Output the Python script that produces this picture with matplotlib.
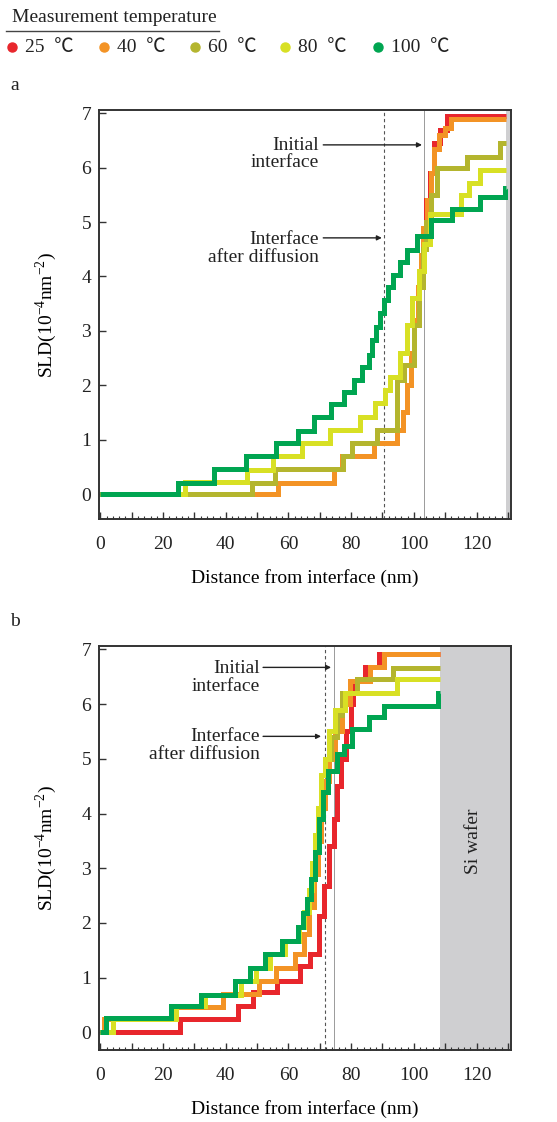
import numpy as np
import matplotlib
matplotlib.use('Agg')
import matplotlib.pyplot as plt
from matplotlib.lines import Line2D
from matplotlib.ticker import MultipleLocator, FuncFormatter

plt.rcParams['font.family'] = ['Liberation Serif', 'Noto Sans CJK SC']
plt.rcParams['mathtext.fontset'] = 'custom'
plt.rcParams['mathtext.rm'] = 'Liberation Serif'
plt.rcParams['font.size'] = 14

temps = ['25', '40', '60', '80', '100']
colors = ['#e8262c', '#f39325', '#b4b52e', '#d8e024', '#00a551']

# panel a: step edges (nm) and SLD levels (1e-4 nm^-2)
a_red_x = [0, 56.7, 74.4, 77.0, 87.2, 94.6, 96.5, 97.8, 99.0, 100.2, 101.2, 102.2, 103.0, 104.0, 105.0, 106.3, 108.5, 110.5, 113.6, 129.5]
a_red_y = [0, 0.21, 0.46, 0.69, 0.93, 1.18, 1.5, 2.0, 2.6, 3.2, 3.8, 4.4, 4.9, 5.4, 5.9, 6.45, 6.7, 6.95, 6.95]
a_ora_x = [0, 56.7, 74.4, 77.0, 87.2, 94.6, 96.5, 97.8, 99.0, 100.2, 101.2, 102.2, 103.0, 104.2, 105.5, 106.5, 108.0, 110.0, 112.0, 114.9, 129.5]
a_ora_y = [0, 0.21, 0.46, 0.69, 0.93, 1.18, 1.5, 2.0, 2.6, 3.2, 3.8, 4.4, 4.9, 5.4, 5.9, 6.35, 6.6, 6.73, 6.9, 6.9]
a_oli_x = [0, 48.4, 55.6, 77.5, 80.2, 88.2, 94.6, 97.0, 100.0, 101.5, 102.8, 104.0, 105.5, 107.4, 117.0, 127.6, 129.5]
a_oli_y = [0, 0.21, 0.46, 0.69, 0.93, 1.18, 2.1, 2.37, 3.1, 3.8, 4.5, 5.0, 5.5, 5.99, 6.2, 6.45]
a_yel_x = [0, 27.1, 46.7, 55.1, 64.3, 73.3, 82.9, 87.7, 90.9, 92.5, 95.7, 97.8, 99.4, 101.5, 103.2, 105.3, 114.9, 117.5, 121.0, 129.5]
a_yel_y = [0, 0.22, 0.44, 0.69, 0.93, 1.18, 1.42, 1.67, 1.91, 2.15, 2.6, 3.1, 3.6, 4.1, 4.6, 5.15, 5.5, 5.72, 5.96]
a_gre_x = [0, 24.8, 36.3, 46.4, 56.0, 63.2, 68.2, 73.5, 77.6, 80.8, 83.5, 85.6, 86.8, 88.0, 89.3, 90.5, 91.9, 93.5, 95.7, 97.8, 101.0, 105.5, 112.2, 121.2, 129.0, 129.5]
a_gre_y = [0, 0.21, 0.46, 0.70, 0.94, 1.16, 1.41, 1.65, 1.88, 2.10, 2.34, 2.56, 2.83, 3.08, 3.32, 3.57, 3.81, 4.03, 4.27, 4.49, 4.75, 5.03, 5.25, 5.47, 5.62]

# panel b
b_red_x = [4.5, 25.4, 44.0, 48.8, 56.3, 63.7, 66.9, 69.6, 71.2, 72.8, 74.4, 75.5, 76.8, 78.2, 79.8, 80.5, 84.5, 88.8, 108.5]
b_red_y = [0, 0.24, 0.48, 0.73, 0.94, 1.21, 1.43, 2.13, 2.67, 3.4, 3.9, 4.5, 5.0, 5.5, 6.0, 6.42, 6.67, 6.91]
b_ora_x = [0, 1.2, 24.0, 39.2, 50.5, 56.0, 62.0, 65.0, 66.5, 68.0, 69.5, 70.5, 71.5, 73.0, 75.0, 77.0, 79.5, 86.1, 90.4, 108.5]
b_ora_y = [0, 0.24, 0.46, 0.70, 0.94, 1.18, 1.43, 1.8, 2.3, 2.9, 3.5, 4.1, 4.6, 5.0, 5.5, 6.0, 6.42, 6.67, 6.91]
b_oli_x = [0, 4.0, 24.2, 33.5, 45.0, 49.5, 54.0, 59.0, 63.5, 65.0, 66.5, 67.5, 68.5, 69.5, 70.5, 71.5, 73.5, 75.5, 77.0, 82.0, 93.5, 108.5]
b_oli_y = [0, 0.24, 0.48, 0.69, 0.94, 1.18, 1.43, 1.67, 1.92, 2.2, 2.6, 3.1, 3.6, 4.1, 4.7, 5.0, 5.4, 5.8, 6.2, 6.45, 6.66]
b_yel_x = [0, 4.0, 24.2, 33.5, 45.0, 49.5, 54.0, 59.0, 63.5, 65.0, 66.5, 67.5, 68.5, 69.5, 70.5, 71.5, 73.0, 75.0, 78.0, 94.6, 108.5]
b_yel_y = [0, 0.24, 0.48, 0.69, 0.94, 1.18, 1.43, 1.67, 1.92, 2.2, 2.6, 3.1, 3.6, 4.1, 4.7, 5.0, 5.5, 5.9, 6.2, 6.45]
b_gre_x = [0, 1.9, 22.6, 32.2, 42.9, 47.7, 52.5, 57.8, 63.1, 64.5, 65.9, 67.2, 68.5, 69.8, 71.0, 72.5, 75.5, 77.6, 80.3, 85.6, 90.4, 107.6, 108.5]
b_gre_y = [0, 0.27, 0.48, 0.69, 0.94, 1.18, 1.43, 1.67, 1.92, 2.19, 2.43, 2.8, 3.3, 3.9, 4.4, 4.78, 5.08, 5.23, 5.55, 5.76, 5.97, 6.21]

a_curves = [(a_red_x, a_red_y), (a_ora_x, a_ora_y), (a_oli_x, a_oli_y), (a_yel_x, a_yel_y), (a_gre_x, a_gre_y)]
b_curves = [(b_red_x, b_red_y), (b_ora_x, b_ora_y), (b_oli_x, b_oli_y), (b_yel_x, b_yel_y), (b_gre_x, b_gre_y)]

# interface positions (nm)
a_diff, a_init = 90.4, 103.3
b_diff, b_init = 71.7, 74.6
a_wafer = 129.5
b_wafer = 108.5

fig = plt.figure(figsize=(5.57, 11.22), dpi=100)
ax_a = fig.add_axes([0.1786, 0.5374, 0.7388, 0.3645])
ax_b = fig.add_axes([0.1786, 0.0642, 0.7388, 0.3600])

def style(ax, ylo):
    ax.set_xlim(-0.3, 131)
    ax.set_ylim(ylo, 7.06)
    ax.xaxis.set_major_locator(MultipleLocator(10))
    ax.xaxis.set_minor_locator(MultipleLocator(2))
    ax.xaxis.set_major_formatter(FuncFormatter(lambda v, p: '%d' % v if int(round(v)) % 20 == 0 else ''))
    ax.yaxis.set_major_locator(MultipleLocator(1))
    ax.tick_params(which='both', direction='in', top=False, right=False, colors='#333333', labelcolor='#222222', labelsize=14)
    ax.tick_params(which='major', length=5, width=1)
    ax.tick_params(which='minor', length=2.5, width=0.8)
    ax.tick_params(axis='x', pad=12)
    ax.tick_params(axis='y', pad=6)
    for s in ax.spines.values():
        s.set_color('#333333')
        s.set_linewidth(1.4)
    ax.set_xlabel('Distance from interface (nm)', fontsize=14, labelpad=12)
    ax.set_ylabel(r'SLD(10$^{-4}$nm$^{-2}$)', fontsize=14, labelpad=16)

for ax, curves, wafer, d, i, ylo in [(ax_a, a_curves, a_wafer, a_diff, a_init, -0.46),
                                     (ax_b, b_curves, b_wafer, b_diff, b_init, -0.32)]:
    ax.axvspan(wafer, 131, color='#cfcfd1', lw=0, zorder=0)
    ax.axvline(d, color='#555555', ls=(0, (3, 2.5)), lw=0.8, zorder=1)
    ax.axvline(i, color='#9a9a9a', ls='-', lw=0.7, zorder=1)
    for (xs, ys), c in zip(curves, colors):
        ax.stairs(ys, xs, baseline=None, color=c, lw=3.6, zorder=2)
    style(ax, ylo)

ax_b.text(119, 3.5, 'Si wafer', rotation=90, ha='center', va='center', fontsize=14, color='#222222')

arrow = dict(arrowstyle='-|>', color='#222222', lw=1.0, mutation_scale=7, shrinkA=0, shrinkB=0)
ax_a.text(69.8, 6.25, 'Initial\ninterface', ha='right', va='center', ma='right', fontsize=14, linespacing=1.05, color='#222222')
ax_a.annotate('', xy=(102.6, 6.42), xytext=(71.1, 6.42), arrowprops=arrow)
ax_a.text(69.8, 4.52, 'Interface\nafter diffusion', ha='right', va='center', ma='right', fontsize=14, linespacing=1.05, color='#222222')
ax_a.annotate('', xy=(89.8, 4.71), xytext=(71.1, 4.71), arrowprops=arrow)

ax_b.text(51.0, 6.48, 'Initial\ninterface', ha='right', va='center', ma='right', fontsize=14, linespacing=1.05, color='#222222')
ax_b.annotate('', xy=(73.6, 6.67), xytext=(51.9, 6.67), arrowprops=arrow)
ax_b.text(51.0, 5.24, 'Interface\nafter diffusion', ha='right', va='center', ma='right', fontsize=14, linespacing=1.05, color='#222222')
ax_b.annotate('', xy=(70.4, 5.41), xytext=(51.9, 5.41), arrowprops=arrow)

# panel letters
fig.text(15 / 557, 1 - 85 / 1122, 'a', fontsize=14, ha='center', va='center', color='#222222')
fig.text(15 / 557, 1 - 622 / 1122, 'b', fontsize=14, ha='center', va='center', color='#222222')

# legend header
fig.text(12 / 557, 1 - 18 / 1122, 'Measurement temperature', fontsize=14, ha='left', va='center', color='#222222')
fig.add_artist(Line2D([6 / 557, 219 / 557], [1 - 31 / 1122, 1 - 31 / 1122], color='#444444', lw=1.0))

dot_x = [12, 104, 195, 285, 378]
for t, c, dx in zip(temps, colors, dot_x):
    fig.add_artist(Line2D([dx / 557], [1 - 47 / 1122], marker='o', ms=6.5, color=c, lw=0))
    fig.text((dx + 13) / 557, 1 - 47 / 1122, t + '  ℃', fontsize=14, ha='left', va='center', color='#222222')

fig.savefig('out.png', dpi=100)
